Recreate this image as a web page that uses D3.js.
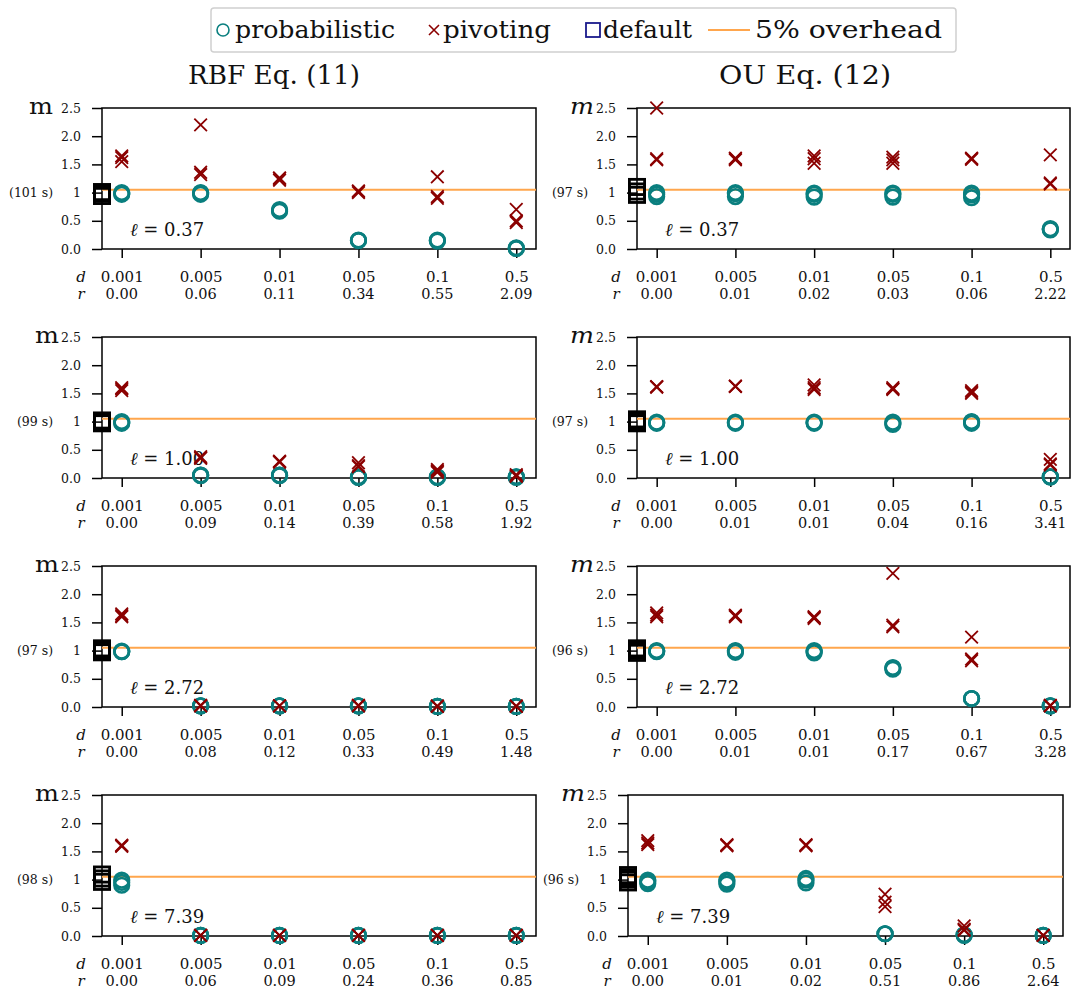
<!DOCTYPE html>
<html><head><meta charset="utf-8">
<script src="https://cdn.jsdelivr.net/npm/d3@7"></script>
<style>
body{margin:0;background:#fff;}
svg text{font-family:"DejaVu Serif",serif;fill:#111;}
</style></head>
<body><svg id="chart" width="1071" height="991"></svg>
<script>
const dCategories = ["0.001","0.005","0.01","0.05","0.1","0.5"];
const lengthscales = ["0.37","1.00","2.72","7.39"];
const kernelTitles = ["RBF Eq. (11)", "OU Eq. (12)"];
const yTicks = [0, 0.5, 1, 1.5, 2, 2.5];
const overhead = 1.05;
const legendLabels = ["probabilistic", "pivoting", "default", "5% overhead"];

const rbfSeconds = [101, 99, 97, 98];
const ouSeconds = [97, 97, 96, 96];

const rbfR = [
  ["0.00","0.06","0.11","0.34","0.55","2.09"],
  ["0.00","0.09","0.14","0.39","0.58","1.92"],
  ["0.00","0.08","0.12","0.33","0.49","1.48"],
  ["0.00","0.06","0.09","0.24","0.36","0.85"]];
const ouR = [
  ["0.00","0.01","0.02","0.03","0.06","2.22"],
  ["0.00","0.01","0.01","0.04","0.16","3.41"],
  ["0.00","0.01","0.01","0.17","0.67","3.28"],
  ["0.00","0.01","0.02","0.51","0.86","2.64"]];

const rbfDefault = [[0.94,0.98,1.01],[0.97,1.0,1.02],[0.97,1.0,1.04],[0.96,1.02,1.09]];
const ouDefault = [[0.96,1.02,1.1],[0.97,1.0,1.04],[0.96,1.0,1.04],[0.95,1.0,1.04,1.08]];

const rbfProbabilistic = [
  [[0.97,1.0,0.98],[0.97,0.99,1.0],[0.68,0.67,0.70],[0.15,0.16,0.15],[0.15,0.16,0.14],[0.01,0.02,0.01]],
  [[0.98,1.0,0.97],[0.05,0.04,0.05],[0.05,0.04,0.05],[0.01,0.02,0.01],[0.01,0.01,0.02],[0.01,0.02,0.02]],
  [[0.98,0.99,0.98],[0.02,0.02,0.02],[0.02,0.02,0.02],[0.02,0.02,0.02],[0.01,0.01,0.01],[0.01,0.01,0.01]],
  [[0.9,0.95,0.99],[0.01,0.01,0.01],[0.01,0.01,0.01],[0.01,0.01,0.01],[0.01,0.01,0.01],[0.01,0.01,0.01]]];
const rbfPivoting = [
  [[1.55,1.62,1.65],[2.2,1.36,1.32],[1.26,1.22,1.25],[1.02,1.0,1.03],[1.28,0.93,0.9],[0.7,0.5,0.47]],
  [[1.6,1.55,1.58],[0.38,0.35,0.36],[0.3,0.28,0.29],[0.27,0.22,0.2],[0.15,0.12,0.1],[0.06,0.03,0.04]],
  [[1.65,1.62,1.6],[0.03,0.02,0.02],[0.02,0.02,0.02],[0.03,0.02,0.02],[0.01,0.02,0.01],[0.01,0.02,0.01]],
  [[1.6,1.61,1.59],[0.01,0.01,0.01],[0.01,0.01,0.01],[0.01,0.01,0.01],[0.01,0.01,0.01],[0.01,0.01,0.01]]];

const ouProbabilistic = [
  [[0.93,0.97,1.0],[0.93,0.98,1.0],[0.92,0.97,0.99],[0.92,0.97,0.99],[0.91,0.96,0.99],[0.35,0.34,0.36]],
  [[0.97,0.99,0.98],[0.98,0.99,0.97],[0.97,0.99,0.98],[0.95,0.99,0.97],[0.97,1.0,0.99],[0.02,0.02,0.02]],
  [[0.98,1.0,0.99],[0.97,1.0,0.99],[0.96,1.0,0.98],[0.67,0.7,0.69],[0.15,0.15,0.15],[0.02,0.02,0.02]],
  [[0.93,0.96,0.99],[0.92,0.96,0.99],[0.94,0.99,1.02],[0.04,0.04,0.04],[0.01,0.02,0.02],[0.01,0.01,0.01]]];
const ouPivoting = [
  [[2.5,1.6,1.58],[1.6,1.58,1.61],[1.65,1.6,1.52],[1.63,1.58,1.52],[1.6,1.59,1.61],[1.67,1.17,1.15]],
  [[1.62,1.61,1.62],[1.63,1.62,1.63],[1.65,1.6,1.57],[1.6,1.57,1.58],[1.55,1.5,1.52],[0.33,0.25,0.23]],
  [[1.67,1.63,1.6],[1.63,1.6,1.62],[1.6,1.57,1.59],[2.37,1.45,1.42],[1.24,0.85,0.82],[0.03,0.02,0.02]],
  [[1.69,1.65,1.62],[1.62,1.6,1.61],[1.62,1.6,1.61],[0.74,0.6,0.52],[0.18,0.12,0.1],[0.01,0.01,0.01]]];

const COL_PROB = "#0a7f7f", COL_PIV = "#8b0000", COL_DEF = "#000", COL_LEG_DEF = "#1a1a8c", COL_OVER = "#ffa64d";

const kernels = [
  {title: kernelTitles[0], seconds: rbfSeconds, r: rbfR, def: rbfDefault, prob: rbfProbabilistic, piv: rbfPivoting, mLabel: "m", italic: false, titleX: 274},
  {title: kernelTitles[1], seconds: ouSeconds, r: ouR, def: ouDefault, prob: ouProbabilistic, piv: ouPivoting, mLabel: "m", italic: true, titleX: 805}
];

const svg = d3.select("#chart");
svg.append("rect").attr("width",1071).attr("height",991).attr("fill","#fff");

function panelBox(k, i) {
  const top = 108 + 229 * i, height = 141;
  let left, width;
  if (k === 0) { left = 102; width = 434; }
  else if (i === 3) { left = 628; width = 435; }
  else { left = 637; width = 433; }
  return {left, top, width, height};
}

const xPath = "M-6.3,-6.3L6.3,6.3M6.3,-6.3L-6.3,6.3";

kernels.forEach((K, k) => {
  svg.append("text").attr("x", K.titleX).attr("y", 84).attr("text-anchor","middle")
    .style("font-size","26px").attr("textLength", 172).attr("lengthAdjust","spacingAndGlyphs")
    .text(K.title);

  lengthscales.forEach((ell, i) => {
    const b = panelBox(k, i);
    const x = d3.scaleLinear().domain([-0.25, 5.25]).range([b.left, b.left + b.width]);
    const y = d3.scaleLinear().domain([0, 2.5]).range([b.top + b.height, b.top]);
    const g = svg.append("g");

    // y axis
    const yAxis = d3.axisLeft(y).tickValues(yTicks).tickSize(10).tickSizeOuter(0).tickPadding(11)
      .tickFormat(v => v === 1 ? "1" : d3.format(".1f")(v));
    const ya = g.append("g").attr("transform", `translate(${b.left},0)`).call(yAxis);
    ya.select(".domain").remove();
    ya.selectAll(".tick line").attr("stroke","#000").attr("stroke-width",1.5);
    ya.selectAll(".tick text").style("font-size","12.5px").attr("fill","#111").attr("font-family","DejaVu Serif");

    // seconds annotation next to the "1" tick
    let oneLeft = b.left - 28, topLabelLeft = b.left - 41;
    ya.selectAll(".tick text").each(function(v) {
      if (v === 1) oneLeft = this.getBBox().x + b.left;
      if (v === 2.5) topLabelLeft = this.getBBox().x + b.left;
    });
    const secText = g.append("text").attr("x", oneLeft - 20).attr("y", y(1)).attr("dy","0.32em")
      .attr("text-anchor","end").style("font-size","12.5px").text(`(${K.seconds[i]} s)`);
    const secLeft = secText.node().getBBox().x;

    // x axis
    const xAxis = d3.axisBottom(x).tickValues(d3.range(dCategories.length)).tickSize(9).tickSizeOuter(0)
      .tickFormat(j => dCategories[j]);
    const xa = g.append("g").attr("transform", `translate(0,${b.top + b.height})`).call(xAxis);
    xa.select(".domain").remove();
    xa.selectAll(".tick line").attr("stroke","#000").attr("stroke-width",1.5);
    xa.selectAll(".tick text").style("font-size","15px").attr("fill","#111").attr("font-family","DejaVu Serif")
      .attr("y", 32.5).attr("dy", 0);
    // r row
    g.selectAll(".rlab").data(K.r[i]).join("text").attr("class","rlab")
      .attr("x", (d, j) => x(j)).attr("y", b.top + b.height + 50).attr("text-anchor","middle")
      .style("font-size","14.5px").text(d => d);
    // d / r labels
    g.append("text").attr("x", b.left - 21).attr("y", b.top + b.height + 32.5).attr("text-anchor","middle")
      .style("font-size","15px").style("font-style","italic").text("d");
    g.append("text").attr("x", b.left - 21).attr("y", b.top + b.height + 50).attr("text-anchor","middle")
      .style("font-size","15px").style("font-style","italic").text("r");

    // m label
    const mX = Math.min(secLeft + 20, topLabelLeft - 26);
    g.append("text").attr("x", mX).attr("y", b.top + 6)
      .attr("textLength", 24).attr("lengthAdjust","spacingAndGlyphs")
      .style("font-size","22.5px").style("font-style", K.italic ? "italic" : "normal").text(K.mLabel);

    // frame
    g.append("rect").attr("x", b.left).attr("y", b.top).attr("width", b.width).attr("height", b.height)
      .attr("fill","none").attr("stroke","#000").attr("stroke-width",1.5);

    // overhead line
    g.append("line").attr("x1", x(-0.25)).attr("x2", x(5.25)).attr("y1", y(overhead)).attr("y2", y(overhead))
      .attr("stroke", COL_OVER).attr("stroke-width", 2);

    // ell text
    const et = g.append("text").attr("x", b.left + 28).attr("y", b.top + b.height - 13).style("font-size","18px");
    et.append("tspan").style("font-style","italic").text("ℓ");
    et.append("tspan").text(` = ${ell}`);

    // default squares
    g.selectAll(".def").data(K.def[i]).join("rect").attr("class","def")
      .attr("x", -7.6).attr("y", -7.6).attr("width", 15.2).attr("height", 15.2)
      .attr("transform", d => `translate(${x(-0.25)},${y(d)})`)
      .attr("fill","none").attr("stroke", COL_DEF).attr("stroke-width", 2.8);

    const probPts = [], pivPts = [];
    K.prob[i].forEach((vals, j) => vals.forEach(v => probPts.push({j, v})));
    K.piv[i].forEach((vals, j) => vals.forEach(v => pivPts.push({j, v})));

    g.selectAll(".prob").data(probPts).join("circle").attr("class","prob")
      .attr("cx", d => x(d.j)).attr("cy", d => y(d.v)).attr("r", 7.3)
      .attr("fill","none").attr("stroke", COL_PROB).attr("stroke-width", 2.6);
    g.selectAll(".piv").data(pivPts).join("path").attr("class","piv")
      .attr("d", xPath).attr("transform", d => `translate(${x(d.j)},${y(d.v)})`)
      .attr("fill","none").attr("stroke", COL_PIV).attr("stroke-width", 1.8);
  });
});

// legend
const lg = svg.append("g");
lg.append("rect").attr("x", 211).attr("y", 8).attr("width", 745).attr("height", 44).attr("rx", 3)
  .attr("fill","#fff").attr("stroke","#d0d0d0").attr("stroke-width",1.5);
const ly = 30, lty = 38;
const legendTextWidths = [160, 108, 89, 187];
lg.append("circle").attr("cx", 223).attr("cy", ly).attr("r", 6).attr("fill","none").attr("stroke", COL_PROB).attr("stroke-width", 1.6);
lg.append("path").attr("d","M-5,-5L5,5M5,-5L-5,5").attr("transform",`translate(434,${ly})`).attr("stroke", COL_PIV).attr("stroke-width",1.6).attr("fill","none");
lg.append("rect").attr("x", 586).attr("y", ly - 7).attr("width", 14).attr("height", 14).attr("fill","none").attr("stroke", COL_LEG_DEF).attr("stroke-width", 1.8);
lg.append("line").attr("x1", 708).attr("x2", 750).attr("y1", ly).attr("y2", ly).attr("stroke", COL_OVER).attr("stroke-width", 2);
const legendTextX = [235, 443, 603, 755];
lg.selectAll(".ltxt").data(legendLabels).join("text").attr("class","ltxt")
  .attr("x", (d, i) => legendTextX[i]).attr("y", lty).style("font-size","25px")
  .attr("textLength", (d, i) => legendTextWidths[i]).attr("lengthAdjust","spacingAndGlyphs")
  .text(d => d);
</script>
</body></html>
